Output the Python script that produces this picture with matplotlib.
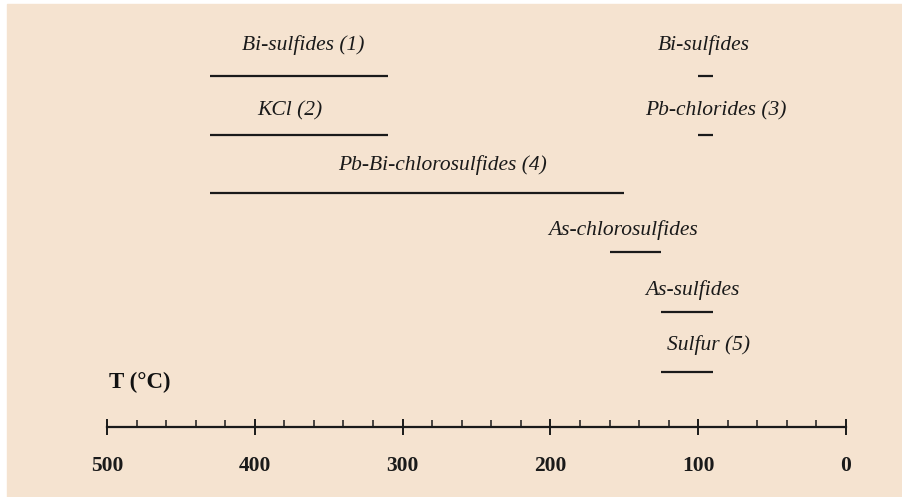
import matplotlib
matplotlib.use("Agg")
import matplotlib.pyplot as plt
from matplotlib.patches import Rectangle
from matplotlib.ticker import FixedLocator

# Temperature ranges (°C) of the deposited phases
labels = ["Bi-sulfides (1)", "KCl (2)", "Pb-Bi-chlorosulfides (4)",
          "Bi-sulfides", "Pb-chlorides (3)", "As-chlorosulfides",
          "As-sulfides", "Sulfur (5)"]
t_high = [430, 430, 430, 100, 100, 160, 125, 125]
t_low = [310, 310, 150, 90, 90, 125, 90, 90]

# Row (vertical slot) of each phase, label centre in °C
rows = [0, 1, 2, 0, 1, 3, 4, 5]
label_x = [367, 376, 273, 96, 88, 151, 104, 93]

axis_ticks = [500, 400, 300, 200, 100, 0]
minor_ticks = list(range(0, 501, 20))

W, H = 902, 497
BG = "#F5E3D0"
fig = plt.figure(figsize=(W / 100, H / 100), dpi=100, facecolor="white")
fig.patches.append(Rectangle((7 / W, 0), 1 - 7 / W, 1 - 4 / H,
                             transform=fig.transFigure, color=BG, zorder=-10))

ax = fig.add_axes([0, 0, 1, 1])
ax.set_facecolor("none")
# 500 °C at 107 px, 0 °C at 846 px
scale = (846 - 107) / 500.0
ax.set_xlim(846 / scale, (846 - W) / scale)
ax.set_ylim(H, 0)

row_bar_y = [76, 135, 193, 252, 312, 372]
row_lbl_y = [45, 111, 165, 230, 290, 345]

serif = ["Liberation Serif", "DejaVu Serif"]
for lab, hi, lo, r, lx in zip(labels, t_high, t_low, rows, label_x):
    ax.hlines(row_bar_y[r], lo, hi, color="#1a1a1a", lw=1.6)
    ax.text(lx, row_lbl_y[r], lab, family=serif, style="italic",
            fontsize=15.5, ha="center", va="center", color="#1a1a1a")

ax.text(140 / W, 1 - 382 / H, "T (°C)", transform=ax.transAxes,
        family=serif, weight="bold", fontsize=16.5, ha="center", va="center",
        color="#111111")

# Temperature axis
for s in ["top", "left", "right"]:
    ax.spines[s].set_visible(False)
ax.spines["bottom"].set_position(("data", 427))
ax.spines["bottom"].set_bounds(0, 500)
ax.spines["bottom"].set_linewidth(1.6)
ax.spines["bottom"].set_color("#1a1a1a")
ax.set_xticks(axis_ticks)
ax.xaxis.set_minor_locator(FixedLocator(minor_ticks))
ax.tick_params(axis="x", which="major", direction="inout", length=12,
               width=1.4, pad=15, labelsize=15.5, colors="#1a1a1a")
ax.tick_params(axis="x", which="minor", direction="in", length=5,
               width=1.1, colors="#1a1a1a")
for t in ax.get_xticklabels():
    t.set_family(serif)
    t.set_weight("bold")
ax.set_yticks([])

fig.savefig("out.png", dpi=100, facecolor="white")
